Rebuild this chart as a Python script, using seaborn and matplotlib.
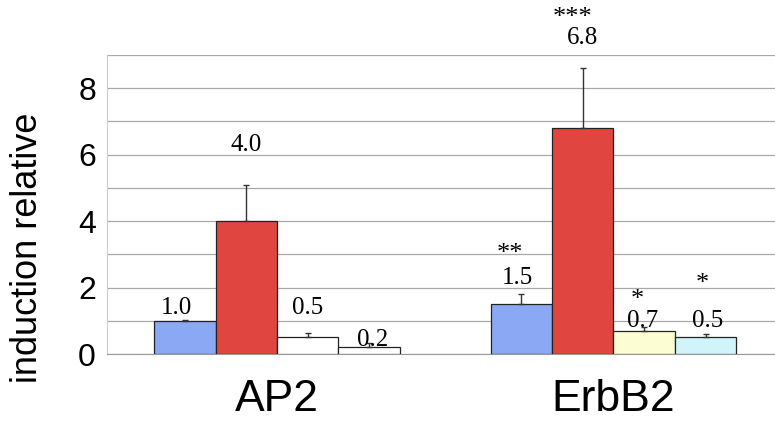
import numpy as np
import pandas as pd
import matplotlib
matplotlib.use("Agg")
import matplotlib.pyplot as plt
import seaborn as sns
from matplotlib.container import BarContainer

# ---- data ----
groups = ["AP2", "ErbB2"]
conditions = ["c1", "c2", "c3", "c4"]
ap2_values = [1.0, 4.0, 0.5, 0.2]
erbb2_values = [1.5, 6.8, 0.7, 0.5]
ap2_errors = [0.03, 1.1, 0.12, 0.12]
erbb2_errors = [0.3, 1.8, 0.1, 0.1]
ap2_labels = ["1.0", "4.0", "0.5", "0.2"]
erbb2_labels = ["1.5", "6.8", "0.7", "0.5"]
ap2_stars = ["", "", "", ""]
erbb2_stars = ["**", "***", "*", "*"]
y_ticks = [0, 2, 4, 6, 8]

ap2_colors = ["#8aa8f3", "#e0463f", "#ffffff", "#ffffff"]
erbb2_colors = ["#8aa8f3", "#e0463f", "#fdfdd3", "#cff4fa"]

df = pd.DataFrame({
    "group": [g for g in groups for _ in conditions],
    "condition": conditions * 2,
    "value": ap2_values + erbb2_values,
})

sns.set_style("white")
plt.rcParams["font.family"] = ["Liberation Sans", "DejaVu Sans"]
plt.rcParams["text.color"] = "black"
plt.rcParams["axes.labelcolor"] = "black"
plt.rcParams["xtick.color"] = "black"
plt.rcParams["ytick.color"] = "black"

fig = plt.figure(figsize=(7.75, 4.24), dpi=100)
ax = fig.add_axes([107 / 775, 70 / 424, 668 / 775, 299 / 424])

sns.barplot(data=df, x="group", y="value", hue="condition", order=groups,
            hue_order=conditions, width=0.73, legend=False, ax=ax,
            edgecolor="#222222", linewidth=0.9, errorbar=None, zorder=3)

colors = [ap2_colors, erbb2_colors]
errors = [ap2_errors, erbb2_errors]
labels = [ap2_labels, erbb2_labels]
stars = [ap2_stars, erbb2_stars]

# label layout (y positions in data units, x offsets in data units)
label_y = [[1.39, 6.3, 1.39, 0.42], [2.3, 9.5, 1.0, 1.0]]
star_y = [[0, 0, 0, 0], [3.0, 10.1, 1.62, 2.12]]
label_dx = [[-0.025, 0.0, 0.0, 0.01], [-0.01, 0.0, -0.005, 0.005]]
star_dx = [[0, 0, 0, 0], [-0.035, -0.03, -0.02, -0.01]]

bar_containers = [c for c in ax.containers if isinstance(c, BarContainer)]
for ci, cont in enumerate(bar_containers):
    for gi, patch in enumerate(list(cont.patches)):
        patch.set_facecolor(colors[gi][ci])
        xc = patch.get_x() + patch.get_width() / 2
        h = patch.get_height()
        ax.errorbar(xc, h, yerr=[[0], [errors[gi][ci]]], fmt="none",
                    ecolor="#333333", elinewidth=1.0, capsize=2.5,
                    capthick=1.0, zorder=4)
        ax.text(xc + label_dx[gi][ci], label_y[gi][ci], labels[gi][ci],
                ha="center", va="center", fontsize=18,
                family=["Liberation Serif", "DejaVu Serif"], clip_on=False,
                zorder=5)
        if stars[gi][ci]:
            ax.text(xc + star_dx[gi][ci], star_y[gi][ci], stars[gi][ci],
                    ha="center", va="center", fontsize=19,
                    family=["Liberation Serif", "DejaVu Serif"],
                    clip_on=False, zorder=5)

ax.set_xlim(-0.505, 1.48)
ax.set_ylim(0, 9)
ax.set_yticks(y_ticks)
ax.set_yticks(np.arange(0, 10, 1), minor=True)
ax.grid(True, which="both", axis="y", color="#a8a8a8", linewidth=0.9, zorder=0)
ax.set_axisbelow(True)
ax.tick_params(axis="y", which="both", length=0, labelsize=23, pad=8)
ax.tick_params(axis="x", length=0, labelsize=32, pad=18)
ax.set_xlabel("")
ax.set_ylabel("induction relative", fontsize=26)
ax.yaxis.set_label_coords(-0.093, 0.355)
for s in ["top", "right"]:
    ax.spines[s].set_visible(False)
ax.spines["left"].set_color("#cccccc")
ax.spines["bottom"].set_color("#999999")

fig.savefig("out.png", dpi=100)
